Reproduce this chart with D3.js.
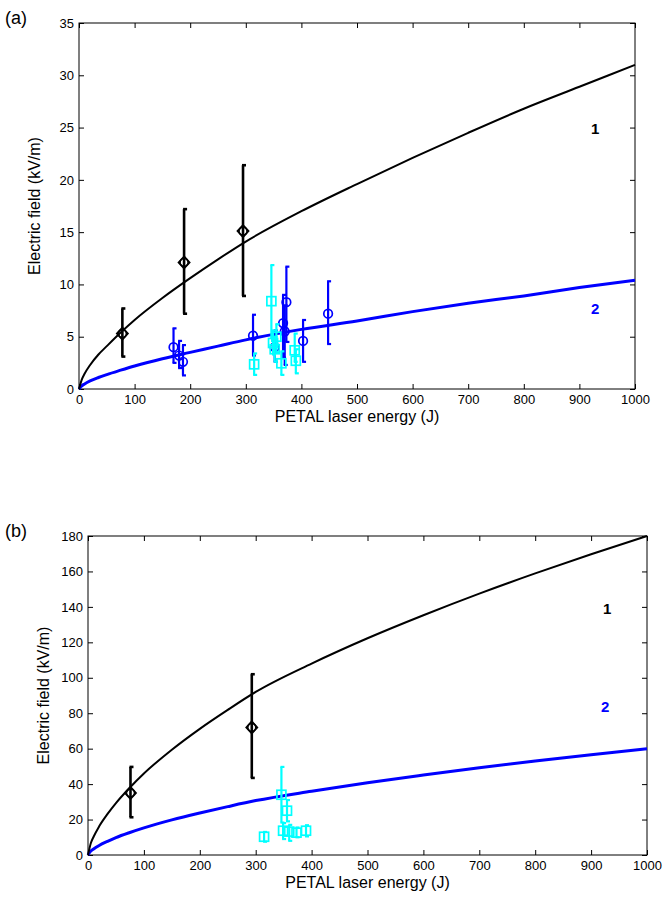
<!DOCTYPE html>
<html>
<head>
<meta charset="utf-8">
<script src="https://cdn.jsdelivr.net/npm/d3@7"></script>
<style>
  body { margin: 0; background: #fff; }
  svg { display: block; font-family: "Liberation Sans", Arial, sans-serif; }
  .tick text { font-size: 13px; fill: #000; }
  .domain { display: none; }
  .tick line { stroke: #000; stroke-width: 1; }
</style>
</head>
<body>
<svg id="chart" width="663" height="910"></svg>
<script>
// --- model curves ---
const energyGrid = [0, 5, 10, 20, 35, 50, 75, 100, 150, 200, 250, 300, 400, 500, 600, 700, 800, 900, 1000];
const aCurve1 = [0, 0.9, 1.45, 2.3, 3.3, 4.1, 5.4, 6.6, 8.7, 10.6, 12.4, 14.1, 17.0, 19.6, 22.1, 24.5, 26.8, 28.9, 31.0];
const aCurve2 = [0, 0.3, 0.48, 0.77, 1.1, 1.38, 1.8, 2.2, 2.9, 3.5, 4.1, 4.7, 5.7, 6.5, 7.4, 8.2, 8.9, 9.7, 10.4];
const bCurve1 = [0, 6.6, 10.3, 16.2, 23.2, 29.3, 38.1, 46, 59.4, 71.2, 81.9, 92, 108, 122.3, 135.3, 147.5, 158.9, 169.7, 180];
const bCurve2 = [0, 2.2, 3.4, 5.4, 7.7, 9.8, 12.7, 15.3, 19.8, 23.7, 27.3, 30.7, 36, 40.8, 45.1, 49.2, 53, 56.6, 60];

// --- panel (a) measurements ---
const aBlackX = [78, 189, 295];
const aBlackY = [5.3, 12.1, 15.1];
const aBlackLo = [3.1, 7.2, 8.9];
const aBlackHi = [7.7, 17.2, 21.4];

const aBlueX = [170, 180, 187, 313, 352, 367, 370, 373, 403, 448];
const aBlueY = [4.0, 3.2, 2.6, 5.1, 4.0, 6.3, 5.5, 8.3, 4.6, 7.2];
const aBlueLo = [2.5, 2.0, 1.3, 3.2, 2.6, 3.0, 2.3, 4.5, 2.6, 4.3];
const aBlueHi = [5.8, 4.6, 4.2, 7.1, 5.6, 9.0, 8.0, 11.7, 6.6, 10.3];

const aCyanX = [315, 346, 349, 352, 355, 364, 388, 390];
const aCyanY = [2.36, 8.4, 4.4, 3.8, 5.0, 2.46, 3.7, 2.7];
const aCyanLo = [1.35, 4.9, 3.3, 2.6, 3.5, 1.35, 2.6, 1.5];
const aCyanHi = [3.4, 11.85, 5.6, 5.0, 6.2, 3.6, 5.3, 3.8];

// --- panel (b) measurements ---
const bBlackX = [76, 293];
const bBlackY = [35, 72];
const bBlackLo = [21.3, 43.5];
const bBlackHi = [49.7, 102];

const bCyanX = [315, 346, 349, 356, 360, 373, 390];
const bCyanY = [10.3, 34, 13.7, 25, 13.2, 12.6, 13.7];
const bCyanLo = [7.5, 18.3, 9, 19, 8, 10, 10.5];
const bCyanHi = [13, 49.7, 18, 31, 17, 15.5, 16.8];

const xTicks = d3.range(0, 1001, 100);
const aYTicks = d3.range(0, 36, 5);
const bYTicks = d3.range(0, 181, 20);

const svg = d3.select("#chart");

function zipPts(xs, ys, lo, hi) {
  return xs.map((x, i) => ({ x: x, y: ys[i], lo: lo ? lo[i] : null, hi: hi ? hi[i] : null }));
}

function drawPanel(p) {
  const g = svg.append("g");
  const x = d3.scaleLinear().domain([0, 1000]).range([p.left, p.right]);
  const y = d3.scaleLinear().domain([0, p.ymax]).range([p.bottom, p.top]);
  const fmt = d3.format("d");

  // MATLAB style box with inward ticks
  g.append("g").attr("transform", `translate(0,${p.bottom})`)
    .call(d3.axisBottom(x).tickValues(xTicks).tickFormat(fmt).tickSize(-5).tickPadding(6));
  g.append("g").attr("transform", `translate(0,${p.top})`)
    .call(d3.axisTop(x).tickValues(xTicks).tickSize(-5).tickFormat(""));
  g.append("g").attr("transform", `translate(${p.left},0)`)
    .call(d3.axisLeft(y).tickValues(p.yTicks).tickFormat(fmt).tickSize(-5).tickPadding(5));
  g.append("g").attr("transform", `translate(${p.right},0)`)
    .call(d3.axisRight(y).tickValues(p.yTicks).tickSize(-5).tickFormat(""));
  g.append("rect")
    .attr("x", p.left).attr("y", p.top)
    .attr("width", p.right - p.left).attr("height", p.bottom - p.top)
    .attr("fill", "none").attr("stroke", "#000").attr("stroke-width", 1);

  const line = d3.line().x(d => x(d[0])).y(d => y(d[1])).curve(d3.curveMonotoneX);
  g.append("path").datum(energyGrid.map((e, i) => [e, p.curve2[i]]))
    .attr("d", line).attr("fill", "none").attr("stroke", "#0000ff").attr("stroke-width", 3);
  g.append("path").datum(energyGrid.map((e, i) => [e, p.curve1[i]]))
    .attr("d", line).attr("fill", "none").attr("stroke", "#000").attr("stroke-width", 2);

  function errorBars(pts, color, w) {
    const eb = g.append("g").attr("stroke", color).attr("stroke-width", w).attr("fill", "none");
    pts.forEach(d => {
      eb.append("line").attr("x1", x(d.x)).attr("x2", x(d.x)).attr("y1", y(d.lo)).attr("y2", y(d.hi));
      [d.lo, d.hi].forEach(v => {
        eb.append("line").attr("x1", x(d.x) - 1).attr("x2", x(d.x) + 3)
          .attr("y1", y(v)).attr("y2", y(v));
      });
    });
  }

  if (p.blue) {
    const pts = p.blue;
    errorBars(pts, "#0000ff", 2.2);
    g.append("g").selectAll("circle").data(pts).join("circle")
      .attr("cx", d => x(d.x)).attr("cy", d => y(d.y)).attr("r", 4.3)
      .attr("fill", "none").attr("stroke", "#0000ff").attr("stroke-width", 1.7);
  }

  const cyan = p.cyan;
  errorBars(cyan, "#00ffff", 2.2);
  g.append("g").selectAll("rect").data(cyan).join("rect")
    .attr("x", d => x(d.x) - 4.5).attr("y", d => y(d.y) - 4.5)
    .attr("width", 9).attr("height", 9)
    .attr("fill", "none").attr("stroke", "#00ffff").attr("stroke-width", 1.7);

  const black = p.black;
  errorBars(black, "#000", 2.6);
  const mk = g.append("g").selectAll("g").data(black).join("g")
    .attr("transform", d => `translate(${x(d.x)},${y(d.y)})`);
  mk.append("path").attr("d", "M0,-6L5.5,0L0,6L-5.5,0Z")
    .attr("fill", "none").attr("stroke", "#000").attr("stroke-width", 1.8);
  mk.append("circle").attr("r", 4).attr("fill", "none").attr("stroke", "#000").attr("stroke-width", 1.6);

  // curve labels
  g.append("text").attr("x", p.lab1[0]).attr("y", p.lab1[1])
    .attr("font-size", 15).attr("font-weight", "bold").attr("fill", "#000").text("1");
  g.append("text").attr("x", p.lab2[0]).attr("y", p.lab2[1])
    .attr("font-size", 15).attr("font-weight", "bold").attr("fill", "#0000ff").text("2");

  // axis titles
  g.append("text").attr("x", (p.left + p.right) / 2).attr("y", p.bottom + 33)
    .attr("text-anchor", "middle").attr("font-size", 16).text("PETAL laser energy (J)");
  g.append("text")
    .attr("transform", `translate(${p.ylabX},${(p.top + p.bottom) / 2}) rotate(-90)`)
    .attr("text-anchor", "middle").attr("font-size", 16).text("Electric field (kV/m)");
  g.append("text").attr("x", 5).attr("y", p.top + 1)
    .attr("font-size", 18).text(p.tag);
}

drawPanel({
  tag: "(a)", left: 79, right: 635, top: 23, bottom: 389, ymax: 35, yTicks: aYTicks, ylabX: 40,
  curve1: aCurve1, curve2: aCurve2,
  black: zipPts(aBlackX, aBlackY, aBlackLo, aBlackHi),
  blue: zipPts(aBlueX, aBlueY, aBlueLo, aBlueHi),
  cyan: zipPts(aCyanX, aCyanY, aCyanLo, aCyanHi),
  lab1: [591, 134], lab2: [591, 314]
});

drawPanel({
  tag: "(b)", left: 88, right: 647, top: 536, bottom: 855, ymax: 180, yTicks: bYTicks, ylabX: 49,
  curve1: bCurve1, curve2: bCurve2,
  black: zipPts(bBlackX, bBlackY, bBlackLo, bBlackHi),
  blue: null,
  cyan: zipPts(bCyanX, bCyanY, bCyanLo, bCyanHi),
  lab1: [603, 614], lab2: [601, 712]
});
</script>
</body>
</html>
